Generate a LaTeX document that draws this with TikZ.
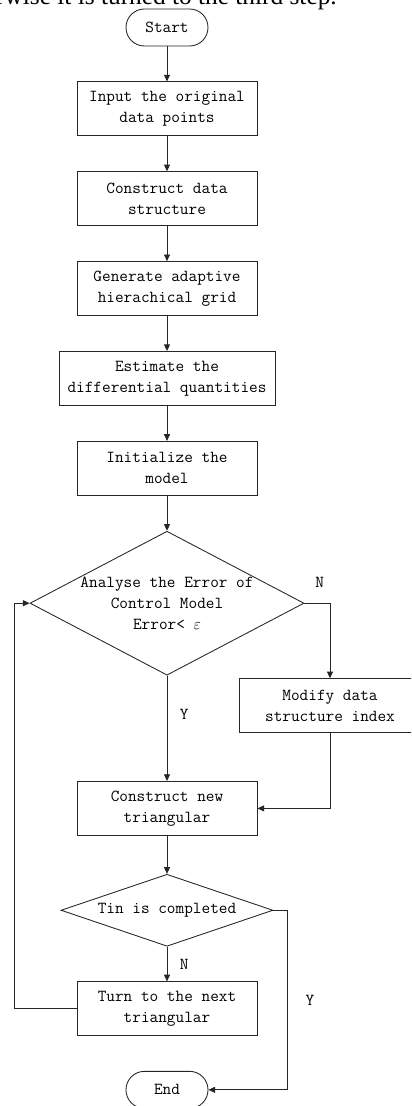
\documentclass[tikz,border=0pt]{standalone}
\usepackage{fontspec}
\setmainfont{Liberation Serif}
\usetikzlibrary{shapes.geometric, arrows.meta, positioning, calc}
\tikzset{
    base/.style={rectangle, draw=black!85, line width=0.65pt, font=\ttfamily\fontsize{12.6}{15.75}\selectfont, align=center, inner sep=2pt},
    proc/.style={base, minimum width=135pt, minimum height=40.5pt},
    term/.style={base, rounded corners=13.8pt, minimum width=61.5pt, minimum height=27.75pt},
    decision/.style={diamond, draw=black!85, line width=0.65pt, inner sep=0pt},
    tag/.style={font=\ttfamily\fontsize{12.6}{14}\selectfont},
    arrow/.style={-{Triangle[length=5pt,width=4.5pt]}, line width=0.65pt, draw=black!85}
}
\begin{document}
\begin{tikzpicture}[node distance=26.25pt]

    \useasboundingbox (-125.25pt,20.625pt) rectangle (183pt,-808.875pt);
    \clip (-125.25pt,20.625pt) rectangle (183pt,-808.875pt);

    % Line of running text above the chart
    \node (note) [anchor=base east, font=\fontsize{19}{22}\selectfont, inner sep=0pt] at (127.5pt,17.5pt) {otherwise it is turned to the third step.};

    % Main column
    \node (start) [term] {Start};

    \node (input) [proc, below=of start] {Input the original\\data points};

    \node (struct) [proc, below=of input] {Construct data\\structure};

    \node (grid) [proc, below=of struct] {Generate adaptive\\hierachical grid};

    \node (estim) [proc, minimum width=162pt, below=of grid] {Estimate the\\differential quantities};

    \node (init) [proc, below=of estim] {Initialize the\\model};

    % Error check
    \node (check) [decision, minimum width=205.5pt, minimum height=108pt, below=of init] {};
    \node (checktxt) [base, draw=none] at (check) {Analyse the Error of\\Control Model\\Error<~$\varepsilon$};

    \node (modify) [proc, minimum width=136.5pt] at ($(check.center)+(122.25pt,-76.9pt)$) {Modify data\\structure index};

    \node (build) [proc, below=79pt of check] {Construct new\\triangular};

    % Completion test
    \node (done) [decision, minimum width=159pt, minimum height=54pt, below=28.5pt of build] {};
    \node (donetxt) [base, draw=none] at (done) {Tin is completed};

    \node (turn) [proc, below=26pt of done] {Turn to the next\\triangular};

    \node (stop) [term, below=26pt of turn] {End};

    % Connecting
    \draw [arrow] (start) -- (input);
    \draw [arrow] (input) -- (struct);
    \draw [arrow] (struct) -- (grid);
    \draw [arrow] (grid) -- (estim);
    \draw [arrow] (estim) -- (init);
    \draw [arrow] (init) -- (check);

    \draw [arrow] (check.east) -| node[pos=0.3, above=8pt, tag] {N} (modify.north);
    \draw [arrow] (check.south) -- node[pos=0.37, right=6pt, tag] {Y} (build.north);
    \draw [arrow] (modify.south) |- (build.east);

    \draw [arrow] (build) -- (done);
    \draw [arrow] (done) -- node[midway, right=6pt, tag] {N} (turn);

    \draw [arrow] (turn.west) -- ++(-46.5pt,0) |- (check.west);
    \draw [arrow] (done.east) -- ++(10.5pt,0) |- node[pos=0.25, right=10pt, tag] {Y} (stop.east);

\end{tikzpicture}
\end{document}
